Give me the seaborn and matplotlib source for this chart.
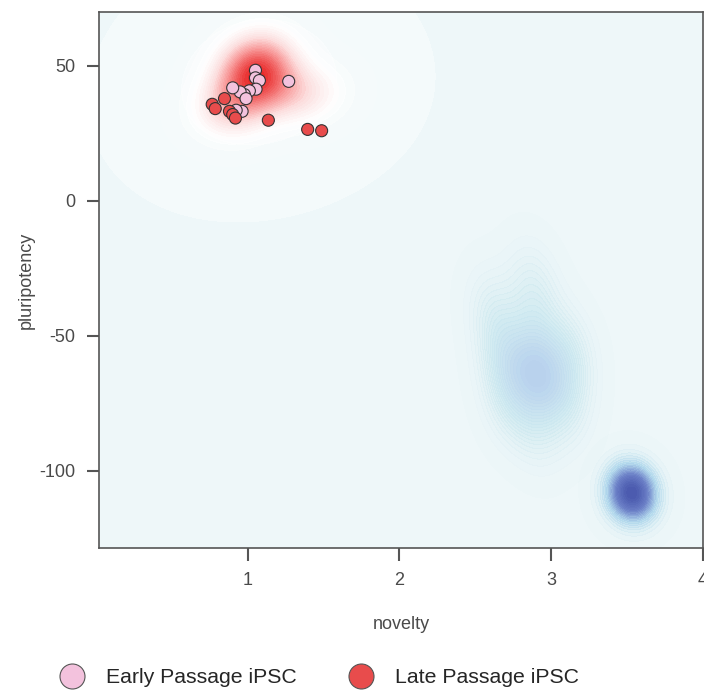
import numpy as np
import pandas as pd
import seaborn as sns
from matplotlib import pyplot as plt
from matplotlib.colors import LinearSegmentedColormap
from matplotlib.lines import Line2D

# iPSC samples
early_x = [1.051, 1.051, 1.077, 1.055, 1.011, 0.978, 0.950, 0.901, 0.989, 0.963, 0.924, 1.270]
early_y = [48.4, 45.6, 44.6, 41.4, 40.8, 39.4, 40.4, 41.9, 37.9, 33.2, 33.6, 44.3]
late_x = [0.847, 0.766, 0.786, 0.880, 0.901, 0.919, 1.136, 1.395, 1.487]
late_y = [37.9, 35.8, 34.2, 33.2, 32.0, 30.7, 29.9, 26.5, 26.0]

# samples behind the densities (not drawn as points), estimated from the shading
red_x = [1.05, 1.00, 1.10, 0.98, 1.12, 1.05, 0.90, 1.20, 1.05, 1.45, 1.30, 0.85, 0.95, 1.08]
red_y = [47, 50, 45, 44, 50, 54, 38, 42, 42, 40, 38, 34, 32, 56]
mid_x = [2.90, 2.90, 2.90, 2.68, 3.12, 2.72, 3.08, 2.70, 3.10, 2.90, 2.90, 2.62, 2.88]
mid_y = [-64, -64, -64, -54, -54, -76, -76, -64, -64, -46, -84, -40, -30]
fib_x = [3.50, 3.55, 3.53, 3.57, 3.49, 3.54]
fib_y = [-106.5, -110, -105.5, -109, -110.5, -107.5]

labels = ['Early Passage iPSC', 'Late Passage iPSC']
colors = ['#f3c2dd', '#e84c4c']
text_color = '#4a4a4a'


def pre_config():
    sns.set_style('white')
    plt.rcParams['font.family'] = ['Liberation Sans', 'DejaVu Sans']
    plt.rcParams['axes.unicode_minus'] = False


def alpha_cmap(name, stops):
    return LinearSegmentedColormap.from_list(name, stops)


def main():
    pre_config()
    fig = plt.figure(figsize=(7.04, 6.93), dpi=100)
    ax = fig.add_axes([0.1406, 0.2092, 0.8580, 0.7735])
    ax.set_facecolor('#eef7f9')

    # blue densities
    mid_cmap = alpha_cmap('mid', [(0.85, 0.93, 0.95, 0.0), (0.80, 0.91, 0.94, 0.85),
                                  (0.72, 0.82, 0.93, 1.0)])
    sns.kdeplot(x=mid_x, y=mid_y, fill=True, cmap=mid_cmap, levels=25, thresh=0.01,
                bw_adjust=1.15, ax=ax)
    fib_cmap = alpha_cmap('fib', [(0.82, 0.92, 0.95, 0.0), (0.70, 0.85, 0.93, 0.9),
                                  (0.42, 0.50, 0.78, 1.0), (0.29, 0.35, 0.68, 1.0)])
    sns.kdeplot(x=fib_x, y=fib_y, fill=True, cmap=fib_cmap, levels=25, thresh=0.005,
                bw_adjust=4.8, ax=ax)

    # white halo and red density of the iPSC
    white_cmap = alpha_cmap('white', [(1, 1, 1, 0.35), (1, 1, 1, 0.6)])
    sns.kdeplot(x=red_x, y=red_y, fill=True, cmap=white_cmap, levels=[0.03, 0.5, 1],
                bw_adjust=4, ax=ax)
    red_cmap = alpha_cmap('red', [(0.0, (1, 1, 1, 0.0)), (0.12, (1, 1, 1, 0.95)),
                                  (0.35, (0.99, 0.87, 0.87, 1.0)), (0.62, (0.97, 0.58, 0.58, 1.0)),
                                  (1.0, (0.91, 0.15, 0.15, 1.0))])
    sns.kdeplot(x=red_x, y=red_y, fill=True, cmap=red_cmap, levels=30, thresh=0.005,
                bw_adjust=1.6, ax=ax)

    all_x = early_x + late_x
    all_y = early_y + late_y
    df = pd.DataFrame({'novelty': all_x, 'pluripotency': all_y,
                       'group': [labels[0]] * len(early_x) + [labels[1]] * len(late_x)})
    sns.scatterplot(data=df, x='novelty', y='pluripotency', hue='group', hue_order=labels,
                    palette=colors, s=75, edgecolor='#333333', linewidth=0.8, legend=False,
                    zorder=5, ax=ax)

    ax.set_xlim(0.02, 3.99)
    ax.set_ylim(-128.6, 70)
    ax.set_xticks([1, 2, 3, 4])
    ax.set_yticks([50, 0, -50, -100])
    ax.tick_params(direction='out', length=9, width=1.5, color='#555555', labelcolor=text_color,
                   labelsize=13, pad=8, bottom=True, left=True)
    for t in ax.get_xticklabels():
        t.set_clip_on(False)
    for sp in ax.spines.values():
        sp.set_color('#555555')
        sp.set_linewidth(1.2)
    ax.set_xlabel('novelty', fontsize=13, color=text_color, labelpad=20)
    ax.set_ylabel('pluripotency', fontsize=13, color=text_color, labelpad=3)

    handles = [Line2D([], [], marker='o', linestyle='', markersize=18, markerfacecolor=c,
                      markeredgecolor='#555555', markeredgewidth=0.8) for c in colors]
    fig.legend(handles, labels, loc='center left', bbox_to_anchor=(0.045, 0.022), ncol=2,
               frameon=False, fontsize=15.3, handletextpad=0.6, columnspacing=2.0)

    fig.savefig('out.png', dpi=100)


if __name__ == '__main__':
    main()
